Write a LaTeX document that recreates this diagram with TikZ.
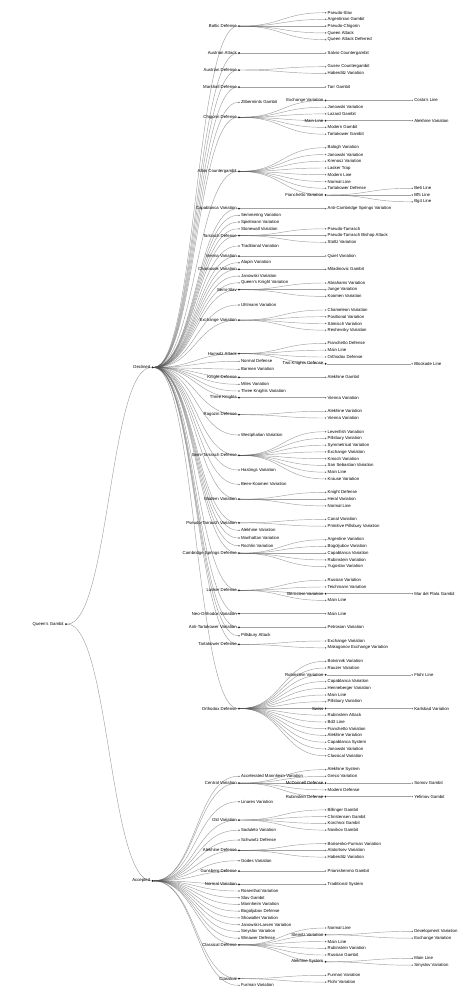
\documentclass[tikz,border=0pt]{standalone}
\usepackage{fontspec}
\setmainfont{Liberation Sans}
\usetikzlibrary{backgrounds}

\begin{document}
\begin{tikzpicture}[
    x=1pt, y=-1pt,
    labelText/.style={
        font=\fontsize{4.3}{5}\selectfont,
        inner sep=0.9pt,
        text=black
    },
    branchNode/.style={
        circle,
        fill=black!90,
        inner sep=0pt,
        minimum size=2pt,
        label={[labelText]left:#1}
    },
    leafNode/.style={
        circle,
        fill=black!60,
        inner sep=0pt,
        minimum size=1.6pt,
        label={[labelText]right:#1}
    },
    link/.style={
        draw=black!67,
        draw opacity=0.55,
        line width=0.45pt,
        to path={.. controls +(43.3,0) and +(-43.3,0) .. (\tikztotarget)}
    }
]
\useasboundingbox (0,0) rectangle (474,1007);

% Racine
\node[branchNode={Queen's Gambit}] (qg) at (66,624.1) {};
\node[branchNode=Declined] (dec) at (152.5,367.4) {};
\node[branchNode=Accepted] (acc) at (152.5,880.8) {};

% Declined
\node[branchNode={Baltic Defense}] (bd) at (239,26.1) {};
\node[leafNode={Pseudo-Slav}] (bd1) at (325.6,12.7) {};
\node[leafNode={Argentinian Gambit}] (bd2) at (325.6,19.4) {};
\node[leafNode={Pseudo-Chigorin}] (bd3) at (325.6,26.1) {};
\node[leafNode={Queen Attack}] (bd4) at (325.6,32.9) {};
\node[leafNode={Queen Attack Deferred}] (bd5) at (325.6,39.6) {};

\node[branchNode={Austrian Attack}] (aat) at (239,53) {};
\node[leafNode={Salvio Countergambit}] (aat1) at (325.6,53) {};

\node[branchNode={Austrian Defense}] (adf) at (239,70) {};
\node[leafNode={Gusev Countergambit}] (adf1) at (325.6,66.7) {};
\node[leafNode={Haberditz Variation}] (adf2) at (325.6,73.4) {};

\node[branchNode={Marshall Defense}] (md) at (239,87) {};
\node[leafNode={Tarr Gambit}] (md1) at (325.6,87) {};

\node[leafNode={Zilbermints Gambit}] (zg) at (239,102.3) {};

\node[branchNode={Chigorin Defense}] (cd) at (239,117.3) {};
\node[branchNode={Exchange Variation}] (cdEx) at (325.6,100.4) {};
\node[leafNode={Costa's Line}] (cdEx1) at (412.2,100.4) {};
\node[leafNode={Janowski Variation}] (cd2) at (325.6,107.2) {};
\node[leafNode={Lazard Gambit}] (cd3) at (325.6,113.9) {};
\node[branchNode={Main Line}] (cdMl) at (325.6,120.7) {};
\node[leafNode={Alekhine Variation}] (cdMl1) at (412.2,120.7) {};
\node[leafNode={Modern Gambit}] (cd5) at (325.6,127.4) {};
\node[leafNode={Tartakower Gambit}] (cd6) at (325.6,134.2) {};

\node[branchNode={Albin Countergambit}] (ac) at (239,171.4) {};
\node[leafNode={Balogh Variation}] (ac1) at (325.6,147.7) {};
\node[leafNode={Janowski Variation}] (ac2) at (325.6,154.5) {};
\node[leafNode={Krenosz Variation}] (ac3) at (325.6,161.2) {};
\node[leafNode={Lasker Trap}] (ac4) at (325.6,168) {};
\node[leafNode={Modern Line}] (ac5) at (325.6,174.7) {};
\node[leafNode={Normal Line}] (ac6) at (325.6,181.5) {};
\node[leafNode={Tartakower Defense}] (ac7) at (325.6,188.3) {};
\node[branchNode={Fianchetto Variation}] (acFi) at (325.6,195) {};
\node[leafNode={Be6 Line}] (acFi1) at (412.2,188.3) {};
\node[leafNode={Bf5 Line}] (acFi2) at (412.2,195) {};
\node[leafNode={Bg4 Line}] (acFi3) at (412.2,201.8) {};

\node[branchNode={Capablanca Variation}] (cv) at (239,208.6) {};
\node[leafNode={Anti-Cambridge Springs Variation}] (cv1) at (325.6,208.6) {};
\node[leafNode={Semmering Variation}] (sem) at (239,215.3) {};
\node[leafNode={Spielmann Variation}] (spi) at (239,222) {};
\node[leafNode={Stonewall Variation}] (sto) at (239,228.8) {};

\node[branchNode={Tarrasch Defense}] (td) at (239,235.6) {};
\node[leafNode={Pseudo-Tarrasch}] (td1) at (325.6,228.8) {};
\node[leafNode={Pseudo-Tarrasch Bishop Attack}] (td2) at (325.6,235.6) {};
\node[leafNode={Stoltz Variation}] (td3) at (325.6,242.3) {};
\node[leafNode={Traditional Variation}] (tv) at (239,246) {};

\node[branchNode={Vienna Variation}] (vv) at (239,256) {};
\node[leafNode={Quiet Variation}] (vv1) at (325.6,256) {};
\node[leafNode={Alapin Variation}] (ala) at (239,262.7) {};
\node[branchNode={Charousek Variation}] (chv) at (239,269.4) {};
\node[leafNode={Miladinovic Gambit}] (chv1) at (325.6,269.4) {};
\node[leafNode={Janowski Variation}] (jv) at (239,276.1) {};
\node[leafNode={Queen's Knight Variation}] (qkv) at (239,282.8) {};

\node[branchNode={Semi-Slav}] (ss) at (239,289.7) {};
\node[leafNode={Abrahams Variation}] (ss1) at (325.6,283) {};
\node[leafNode={Junge Variation}] (ss2) at (325.6,289.7) {};
\node[leafNode={Koomen Variation}] (ss3) at (325.6,296.4) {};
\node[leafNode={Uhlmann Variation}] (uv) at (239,305) {};

\node[branchNode={Exchange Variation}] (ev) at (239,320.1) {};
\node[leafNode={Chameleon Variation}] (ev1) at (325.6,310) {};
\node[leafNode={Positional Variation}] (ev2) at (325.6,316.7) {};
\node[leafNode={Sämisch Variation}] (ev3) at (325.6,323.5) {};
\node[leafNode={Reshevsky Variation}] (ev4) at (325.6,330.2) {};

\node[branchNode={Harrwitz Attack}] (ha) at (239,353.6) {};
\node[leafNode={Fianchetto Defense}] (ha1) at (325.6,343.4) {};
\node[leafNode={Main Line}] (ha2) at (325.6,350.2) {};
\node[leafNode={Orthodox Defense}] (ha3) at (325.6,357) {};
\node[branchNode={Two Knights Defense}] (haTk) at (325.6,363.8) {};
\node[leafNode={Blockade Line}] (haTk1) at (412.2,363.8) {};
\node[leafNode={Normal Defense}] (nd) at (239,361.3) {};
\node[leafNode={Barmen Variation}] (bv) at (239,369.3) {};
\node[branchNode={Knight Defense}] (kd) at (239,377.3) {};
\node[leafNode={Alekhine Gambit}] (kd1) at (325.6,377.3) {};
\node[leafNode={Miles Variation}] (mv) at (239,384.3) {};
\node[leafNode={Three Knights Variation}] (tkv) at (239,391) {};
\node[branchNode={Three Knights}] (tk) at (239,397.7) {};
\node[leafNode={Vienna Variation}] (tk1) at (325.6,397.7) {};

\node[branchNode={Ragozin Defense}] (rd) at (239,414.7) {};
\node[leafNode={Alekhine Variation}] (rd1) at (325.6,411.3) {};
\node[leafNode={Vienna Variation}] (rd2) at (325.6,418) {};
\node[leafNode={Westphalian Variation}] (wv) at (239,435) {};

\node[branchNode={Semi-Tarrasch Defense}] (std) at (239,455.3) {};
\node[leafNode={Levenfish Variation}] (std1) at (325.6,431.7) {};
\node[leafNode={Pillsbury Variation}] (std2) at (325.6,438.4) {};
\node[leafNode={Symmetrical Variation}] (std3) at (325.6,445.2) {};
\node[leafNode={Exchange Variation}] (std4) at (325.6,451.9) {};
\node[leafNode={Kmoch Variation}] (std5) at (325.6,458.7) {};
\node[leafNode={San Sebastian Variation}] (std6) at (325.6,465.4) {};
\node[leafNode={Main Line}] (std7) at (325.6,472.2) {};
\node[leafNode={Krause Variation}] (std8) at (325.6,478.9) {};
\node[leafNode={Hastings Variation}] (hv) at (239,470) {};
\node[leafNode={Been-Koomen Variation}] (bkv) at (239,484.3) {};

\node[branchNode={Modern Variation}] (mov) at (239,499.2) {};
\node[leafNode={Knight Defense}] (mov1) at (325.6,492.4) {};
\node[leafNode={Heral Variation}] (mov2) at (325.6,499.2) {};
\node[leafNode={Normal Line}] (mov3) at (325.6,505.9) {};

\node[branchNode={Pseudo-Tarrasch Variation}] (ptv) at (239,522.8) {};
\node[leafNode={Canal Variation}] (ptv1) at (325.6,519.4) {};
\node[leafNode={Primitive Pillsbury Variation}] (ptv2) at (325.6,526.2) {};
\node[leafNode={Alekhine Variation}] (alv) at (239,530.3) {};
\node[leafNode={Manhattan Variation}] (man) at (239,538) {};
\node[leafNode={Rochlin Variation}] (roc) at (239,545.7) {};

\node[branchNode={Cambridge Springs Defense}] (csd) at (239,553.2) {};
\node[leafNode={Argentine Variation}] (csd1) at (325.6,539.7) {};
\node[leafNode={Bogoljubov Variation}] (csd2) at (325.6,546.4) {};
\node[leafNode={Capablanca Variation}] (csd3) at (325.6,553.2) {};
\node[leafNode={Rubinstein Variation}] (csd4) at (325.6,559.9) {};
\node[leafNode={Yugoslav Variation}] (csd5) at (325.6,566.7) {};

\node[branchNode={Lasker Defense}] (ld) at (239,590.3) {};
\node[leafNode={Russian Variation}] (ld1) at (325.6,580.2) {};
\node[leafNode={Teichmann Variation}] (ld2) at (325.6,587) {};
\node[branchNode={Bernstein Variation}] (ldBe) at (325.6,593.7) {};
\node[leafNode={Mar del Plata Gambit}] (ldBe1) at (412.2,593.7) {};
\node[leafNode={Main Line}] (ld4) at (325.6,600.4) {};

\node[branchNode={Neo-Orthodox Variation}] (nov) at (239,613.7) {};
\node[leafNode={Main Line}] (nov1) at (325.6,613.7) {};
\node[branchNode={Anti-Tartakower Variation}] (atv) at (239,627.3) {};
\node[leafNode={Petrosian Variation}] (atv1) at (325.6,627.3) {};
\node[leafNode={Pillsbury Attack}] (pa) at (239,635.7) {};
\node[branchNode={Tartakower Defense}] (tdd) at (239,644.4) {};
\node[leafNode={Exchange Variation}] (tdd1) at (325.6,641) {};
\node[leafNode={Makogonov Exchange Variation}] (tdd2) at (325.6,647.8) {};

\node[branchNode={Orthodox Defense}] (od) at (239,708.5) {};
\node[leafNode={Botvinnik Variation}] (od1) at (325.6,661.3) {};
\node[leafNode={Rauzer Variation}] (od2) at (325.6,668) {};
\node[branchNode={Rubinstein Variation}] (odRu) at (325.6,674.8) {};
\node[leafNode={Flohr Line}] (odRu1) at (412.2,674.8) {};
\node[leafNode={Capablanca Variation}] (od4) at (325.6,681.5) {};
\node[leafNode={Henneberger Variation}] (od5) at (325.6,688.3) {};
\node[leafNode={Main Line}] (od6) at (325.6,695) {};
\node[leafNode={Pillsbury Variation}] (od7) at (325.6,701.7) {};
\node[branchNode={Swiss}] (odSw) at (325.6,708.5) {};
\node[leafNode={Karlsbad Variation}] (odSw1) at (412.2,708.5) {};
\node[leafNode={Rubinstein Attack}] (od9) at (325.6,715.2) {};
\node[leafNode={Bd3 Line}] (od10) at (325.6,722) {};
\node[leafNode={Fianchetto Variation}] (od11) at (325.6,728.7) {};
\node[leafNode={Alekhine Variation}] (od12) at (325.6,735.4) {};
\node[leafNode={Capablanca System}] (od13) at (325.6,742.2) {};
\node[leafNode={Janowski Variation}] (od14) at (325.6,748.9) {};
\node[leafNode={Classical Variation}] (od15) at (325.6,755.7) {};

% Accepted
\node[leafNode={Accelerated Mannheim Variation}] (amv) at (239,776.3) {};
\node[branchNode={Central Variation}] (cev) at (239,783.1) {};
\node[leafNode={Alekhine System}] (cev1) at (325.6,769.6) {};
\node[leafNode={Greco Variation}] (cev2) at (325.6,776.3) {};
\node[branchNode={McDonnell Defense}] (cevMc) at (325.6,783.1) {};
\node[leafNode={Somov Gambit}] (cevMc1) at (412.2,783.1) {};
\node[leafNode={Modern Defense}] (cev4) at (325.6,789.8) {};
\node[branchNode={Rubinstein Defense}] (cevRu) at (325.6,796.6) {};
\node[leafNode={Yefimov Gambit}] (cevRu1) at (412.2,796.6) {};
\node[leafNode={Linares Variation}] (lv) at (239,801.7) {};

\node[branchNode={Old Variation}] (ov) at (239,820) {};
\node[leafNode={Billinger Gambit}] (ov1) at (325.6,809.9) {};
\node[leafNode={Christensen Gambit}] (ov2) at (325.6,816.6) {};
\node[leafNode={Korchnoi Gambit}] (ov3) at (325.6,823.4) {};
\node[leafNode={Novikov Gambit}] (ov4) at (325.6,830.1) {};
\node[leafNode={Saduleto Variation}] (sv) at (239,830.2) {};
\node[leafNode={Schwartz Defense}] (sd) at (239,840) {};

\node[branchNode={Alekhine Defense}] (ald) at (239,850.4) {};
\node[leafNode={Borisenko-Furman Variation}] (ald1) at (325.6,843.6) {};
\node[leafNode={Alatortsev Variation}] (ald2) at (325.6,850.4) {};
\node[leafNode={Haberditz Variation}] (ald3) at (325.6,857.1) {};
\node[leafNode={Godes Variation}] (gv) at (239,860.7) {};
\node[branchNode={Gunsberg Defense}] (gd) at (239,871) {};
\node[leafNode={Prianishenmo Gambit}] (gd1) at (325.6,871) {};
\node[branchNode={Normal Variation}] (nv) at (239,884.3) {};
\node[leafNode={Traditional System}] (nv1) at (325.6,884.3) {};
\node[leafNode={Rosenthal Variation}] (rv) at (239,891) {};
\node[leafNode={Slav Gambit}] (sg) at (239,897.7) {};
\node[leafNode={Mannheim Variation}] (mnv) at (239,904.4) {};
\node[leafNode={Bogoljubov Defense}] (bjd) at (239,911.1) {};
\node[leafNode={Showalter Variation}] (shv) at (239,917.9) {};
\node[leafNode={Janowski-Larsen Variation}] (jlv) at (239,924.6) {};
\node[leafNode={Smyslov Variation}] (smv) at (239,931.4) {};
\node[leafNode={Winawer Defense}] (wd) at (239,938.2) {};

\node[branchNode={Classical Defense}] (cld) at (239,944.9) {};
\node[leafNode={Normal Line}] (cld1) at (325.6,928) {};
\node[branchNode={Steinitz Variation}] (cldSt) at (325.6,934.8) {};
\node[leafNode={Development Variation}] (cldSt1) at (412.2,931.4) {};
\node[leafNode={Exchange Variation}] (cldSt2) at (412.2,938.2) {};
\node[leafNode={Main Line}] (cld3) at (325.6,941.5) {};
\node[leafNode={Rubinstein Variation}] (cld4) at (325.6,948.3) {};
\node[leafNode={Russian Gambit}] (cld5) at (325.6,955) {};
\node[branchNode={Alekhine System}] (cldAs) at (325.6,961.8) {};
\node[leafNode={Main Line}] (cldAs1) at (412.2,958.4) {};
\node[leafNode={Smyslov Variation}] (cldAs2) at (412.2,965.2) {};

\node[branchNode={Classical}] (cl) at (239,978.7) {};
\node[leafNode={Furman Variation}] (cl1) at (325.6,975.3) {};
\node[leafNode={Flohr Variation}] (cl2) at (325.6,982.1) {};
\node[leafNode={Furman Variation}] (fv) at (239,985.3) {};

% Liens
\begin{scope}[on background layer]
\path (qg) edge[link] (dec) edge[link] (acc);
\path (dec) edge[link] (bd) edge[link] (aat) edge[link] (adf) edge[link] (md)
    edge[link] (zg) edge[link] (cd) edge[link] (ac) edge[link] (cv)
    edge[link] (sem) edge[link] (spi) edge[link] (sto) edge[link] (td)
    edge[link] (tv) edge[link] (vv) edge[link] (ala) edge[link] (chv)
    edge[link] (jv) edge[link] (qkv) edge[link] (ss) edge[link] (uv)
    edge[link] (ev) edge[link] (ha) edge[link] (nd) edge[link] (bv)
    edge[link] (kd) edge[link] (mv) edge[link] (tkv) edge[link] (tk)
    edge[link] (rd) edge[link] (wv) edge[link] (std) edge[link] (hv)
    edge[link] (bkv) edge[link] (mov) edge[link] (ptv) edge[link] (alv)
    edge[link] (man) edge[link] (roc) edge[link] (csd) edge[link] (ld)
    edge[link] (nov) edge[link] (atv) edge[link] (pa) edge[link] (tdd)
    edge[link] (od);
\path (acc) edge[link] (amv) edge[link] (cev) edge[link] (lv) edge[link] (ov)
    edge[link] (sv) edge[link] (sd) edge[link] (ald) edge[link] (gv)
    edge[link] (gd) edge[link] (nv) edge[link] (rv) edge[link] (sg)
    edge[link] (mnv) edge[link] (bjd) edge[link] (shv) edge[link] (jlv)
    edge[link] (smv) edge[link] (wd) edge[link] (cld) edge[link] (cl)
    edge[link] (fv);

\path (bd) edge[link] (bd1) edge[link] (bd2) edge[link] (bd3) edge[link] (bd4) edge[link] (bd5);
\path (aat) edge[link] (aat1);
\path (adf) edge[link] (adf1) edge[link] (adf2);
\path (md) edge[link] (md1);
\path (cd) edge[link] (cdEx) edge[link] (cd2) edge[link] (cd3) edge[link] (cdMl) edge[link] (cd5) edge[link] (cd6);
\path (cdEx) edge[link] (cdEx1);
\path (cdMl) edge[link] (cdMl1);
\path (ac) edge[link] (ac1) edge[link] (ac2) edge[link] (ac3) edge[link] (ac4)
    edge[link] (ac5) edge[link] (ac6) edge[link] (ac7) edge[link] (acFi);
\path (acFi) edge[link] (acFi1) edge[link] (acFi2) edge[link] (acFi3);
\path (cv) edge[link] (cv1);
\path (td) edge[link] (td1) edge[link] (td2) edge[link] (td3);
\path (vv) edge[link] (vv1);
\path (chv) edge[link] (chv1);
\path (ss) edge[link] (ss1) edge[link] (ss2) edge[link] (ss3);
\path (ev) edge[link] (ev1) edge[link] (ev2) edge[link] (ev3) edge[link] (ev4);
\path (ha) edge[link] (ha1) edge[link] (ha2) edge[link] (ha3) edge[link] (haTk);
\path (haTk) edge[link] (haTk1);
\path (kd) edge[link] (kd1);
\path (tk) edge[link] (tk1);
\path (rd) edge[link] (rd1) edge[link] (rd2);
\path (std) edge[link] (std1) edge[link] (std2) edge[link] (std3) edge[link] (std4)
    edge[link] (std5) edge[link] (std6) edge[link] (std7) edge[link] (std8);
\path (mov) edge[link] (mov1) edge[link] (mov2) edge[link] (mov3);
\path (ptv) edge[link] (ptv1) edge[link] (ptv2);
\path (csd) edge[link] (csd1) edge[link] (csd2) edge[link] (csd3) edge[link] (csd4) edge[link] (csd5);
\path (ld) edge[link] (ld1) edge[link] (ld2) edge[link] (ldBe) edge[link] (ld4);
\path (ldBe) edge[link] (ldBe1);
\path (nov) edge[link] (nov1);
\path (atv) edge[link] (atv1);
\path (tdd) edge[link] (tdd1) edge[link] (tdd2);
\path (od) edge[link] (od1) edge[link] (od2) edge[link] (odRu) edge[link] (od4)
    edge[link] (od5) edge[link] (od6) edge[link] (od7) edge[link] (odSw)
    edge[link] (od9) edge[link] (od10) edge[link] (od11) edge[link] (od12)
    edge[link] (od13) edge[link] (od14) edge[link] (od15);
\path (odRu) edge[link] (odRu1);
\path (odSw) edge[link] (odSw1);

\path (cev) edge[link] (cev1) edge[link] (cev2) edge[link] (cevMc) edge[link] (cev4) edge[link] (cevRu);
\path (cevMc) edge[link] (cevMc1);
\path (cevRu) edge[link] (cevRu1);
\path (ov) edge[link] (ov1) edge[link] (ov2) edge[link] (ov3) edge[link] (ov4);
\path (ald) edge[link] (ald1) edge[link] (ald2) edge[link] (ald3);
\path (gd) edge[link] (gd1);
\path (nv) edge[link] (nv1);
\path (cld) edge[link] (cld1) edge[link] (cldSt) edge[link] (cld3) edge[link] (cld4)
    edge[link] (cld5) edge[link] (cldAs);
\path (cldSt) edge[link] (cldSt1) edge[link] (cldSt2);
\path (cldAs) edge[link] (cldAs1) edge[link] (cldAs2);
\path (cl) edge[link] (cl1) edge[link] (cl2);
\end{scope}

\end{tikzpicture}
\end{document}
